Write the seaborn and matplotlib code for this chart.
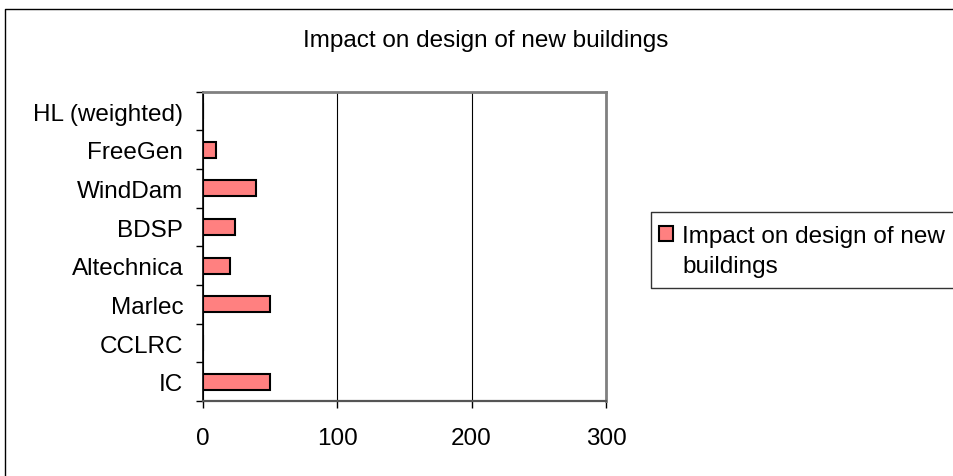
import numpy as np
import pandas as pd
import matplotlib
matplotlib.use("Agg")
import matplotlib.pyplot as plt
import seaborn as sns
from matplotlib.patches import Rectangle
from matplotlib.lines import Line2D

# chart data
categories = ['HL (weighted)', 'FreeGen', 'WindDam', 'BDSP',
              'Altechnica', 'Marlec', 'CCLRC', 'IC']
impact = [0, 10, 40, 24, 20, 50, 0, 50]
x_ticks = [0, 100, 200, 300]
title = 'Impact on design of new buildings'
legend_lines = ['Impact on design of new', 'buildings']

BAR_COLOR = '#FF8080'
FS = 17.5

sns.set_theme(style="white")
# font has to be set after the theme, seaborn resets it
plt.rcParams['font.family'] = ['Liberation Sans', 'DejaVu Sans']

W, H = 954, 477
fig = plt.figure(figsize=(W / 100, H / 100), dpi=100)
fig.patch.set_facecolor('white')

# plot area in pixels (left, top, right, bottom)
pl, pt, pr, pb = 202.7, 92.7, 606, 402
ax = fig.add_axes([pl / W, 1 - pb / H, (pr - pl) / W, (pb - pt) / H])

df = pd.DataFrame({'name': categories, 'value': impact})
sns.barplot(data=df, x='value', y='name', order=categories, orient='h',
            color=BAR_COLOR, saturation=1, width=0.41,
            edgecolor='black', linewidth=1.5, ax=ax)

n = len(categories)
ax.set_xlim(x_ticks[0], x_ticks[-1])
ax.set_ylim(n - 0.5, -0.5)
ax.set_xlabel('')
ax.set_ylabel('')

# x axis
ax.set_xticks(x_ticks)
ax.set_xticklabels([str(v) for v in x_ticks], fontsize=FS, color='black')
ax.tick_params(axis='x', bottom=True, length=5, width=1, color='black', pad=13.5)

# y axis: tick marks between categories, labels at centres
ax.set_yticks(np.arange(n + 1) - 0.5)
ax.set_yticklabels([])
ax.set_yticks(np.arange(n), minor=True)
ax.set_yticklabels(categories, minor=True, fontsize=FS, color='black')
ax.tick_params(axis='y', which='major', left=True, length=5, width=1, color='black')
ax.tick_params(axis='y', which='minor', left=True, length=0, pad=14)

ax.grid(axis='x', color='black', linewidth=0.8)
ax.grid(axis='y', visible=False)
ax.set_axisbelow(True)

for side in ['top', 'right']:
    ax.spines[side].set_color('#808080')
    ax.spines[side].set_linewidth(2)
ax.spines['left'].set_color('black')
ax.spines['left'].set_linewidth(1.2)
ax.spines['bottom'].set_color('#555555')
ax.spines['bottom'].set_linewidth(1.6)

# title, centred on the chart area
fig.text(485.5 / W, 1 - 47 / H, title, ha='center', va='baseline',
         fontsize=FS, color='black')


def fig_line(xs, ys, color='black', lw=1):
    # line in pixel coordinates of the figure
    fig.add_artist(Line2D([x / W for x in xs], [1 - y / H for y in ys],
                          transform=fig.transFigure, color=color, linewidth=lw))


# legend box (runs off the right edge like the original)
fig_line([W + 5, 651, 651, W + 5], [213, 213, 289, 289], color='#333333')
fig.add_artist(Rectangle((659 / W, 1 - 242 / H), 14 / W, 15 / H,
                         transform=fig.transFigure, facecolor=BAR_COLOR,
                         edgecolor='black', linewidth=1.5))
for i, line in enumerate(legend_lines):
    fig.text(682 / W, 1 - (243 + 30 * i) / H, line, ha='left', va='baseline',
             fontsize=FS, color='black')

# chart area border, only top and left edges are inside the picture
fig_line([W + 5, 5.5, 5.5], [9.5, 9.5, H + 5])

fig.savefig('out.png', dpi=100)
